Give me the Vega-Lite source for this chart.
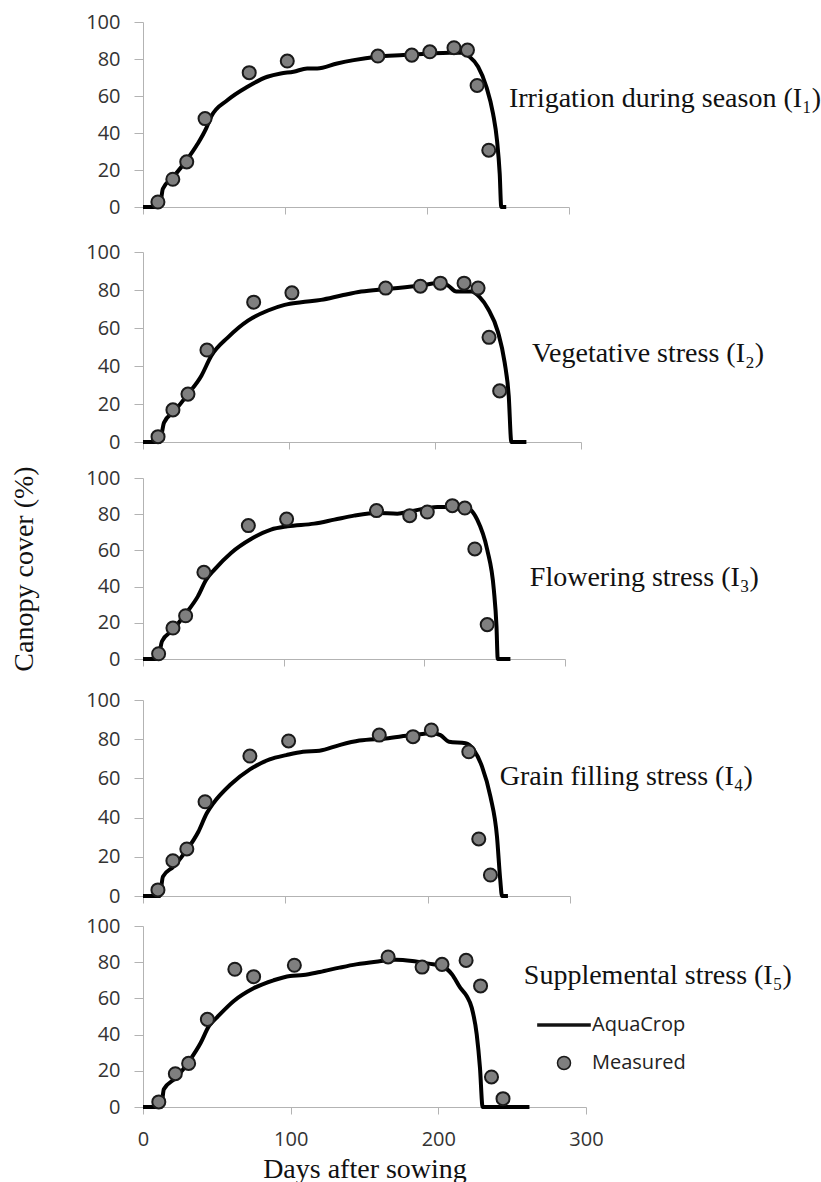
{
  "$schema": "https://vega.github.io/schema/vega-lite/v6.json",
  "padding": {"left": 10, "top": 12, "right": 5, "bottom": 5},
  "background": "white",
  "spacing": 0,
  "config": {
    "view": {"stroke": null},
    "axis": {
      "domainColor": "#b3b3b3", "tickColor": "#b3b3b3", "domainWidth": 1, "tickWidth": 1,
      "labelFont": "Open Sans", "labelFontSize": 20, "labelColor": "#333",
      "titleFont": "Liberation Serif", "titleFontSize": 28, "titleFontWeight": "normal", "titleColor": "#111",
      "grid": false
    },
    "axisX": {"tickSize": 7, "labelPadding": 15, "labelFlush": false},
    "axisY": {"tickSize": 9, "labelPadding": 14}
  },
  "datasets": {
    "sim": [
      {"panel":1,"day":0,"cc":0},{"panel":1,"day":11.7,"cc":0},{"panel":1,"day":14,"cc":9.9},{"panel":1,"day":21,"cc":16},{"panel":1,"day":30.4,"cc":25},{"panel":1,"day":38.6,"cc":34.3},{"panel":1,"day":44.4,"cc":42.4},{"panel":1,"day":47.9,"cc":48.7},{"panel":1,"day":59.6,"cc":57.8},{"panel":1,"day":73.6,"cc":65},{"panel":1,"day":87.6,"cc":70.4},{"panel":1,"day":97,"cc":72.2},{"panel":1,"day":106,"cc":73.1},{"panel":1,"day":115.6,"cc":74.9},{"panel":1,"day":122.7,"cc":74.9},{"panel":1,"day":136.7,"cc":77.6},{"panel":1,"day":148.4,"cc":79.4},{"panel":1,"day":164.7,"cc":81.2},{"panel":1,"day":183.4,"cc":82.1},{"panel":1,"day":202,"cc":83},{"panel":1,"day":216,"cc":83.4},{"panel":1,"day":224.3,"cc":83.4},{"panel":1,"day":230,"cc":81.2},{"panel":1,"day":236,"cc":75.8},{"panel":1,"day":241.8,"cc":65},{"panel":1,"day":246.5,"cc":50.5},{"panel":1,"day":249.3,"cc":36},{"panel":1,"day":251.2,"cc":18},{"panel":1,"day":252.3,"cc":0},{"panel":1,"day":255.8,"cc":0},
      {"panel":2,"day":0,"cc":0},{"panel":2,"day":11.4,"cc":0},{"panel":2,"day":14.4,"cc":10.2},{"panel":2,"day":21.7,"cc":16.4},{"panel":2,"day":30.8,"cc":25.2},{"panel":2,"day":40,"cc":34.9},{"panel":2,"day":46.8,"cc":45.4},{"panel":2,"day":58.2,"cc":55.1},{"panel":2,"day":71.9,"cc":63.9},{"panel":2,"day":85.6,"cc":69.2},{"panel":2,"day":97,"cc":72.2},{"panel":2,"day":108.4,"cc":73.6},{"panel":2,"day":122,"cc":74.8},{"panel":2,"day":135.8,"cc":77.1},{"panel":2,"day":149.5,"cc":79.2},{"panel":2,"day":167.8,"cc":80.6},{"panel":2,"day":190.6,"cc":82.4},{"panel":2,"day":204.3,"cc":83.8},{"panel":2,"day":208.9,"cc":82.4},{"panel":2,"day":214.6,"cc":79.2},{"panel":2,"day":224.9,"cc":79.2},{"panel":2,"day":230.6,"cc":76.2},{"panel":2,"day":236.3,"cc":70.1},{"panel":2,"day":243.2,"cc":57.7},{"panel":2,"day":247.7,"cc":41.9},{"panel":2,"day":250.5,"cc":24.3},{"panel":2,"day":252.3,"cc":0},{"panel":2,"day":262.6,"cc":0},
      {"panel":3,"day":0,"cc":0},{"panel":3,"day":10.6,"cc":0},{"panel":3,"day":13.5,"cc":9.8},{"panel":3,"day":21.3,"cc":16.2},{"panel":3,"day":30.7,"cc":25.4},{"panel":3,"day":39,"cc":34.6},{"panel":3,"day":44.9,"cc":43.8},{"panel":3,"day":50.8,"cc":49.4},{"panel":3,"day":62.6,"cc":58.6},{"panel":3,"day":76.8,"cc":66.3},{"panel":3,"day":91,"cc":71.5},{"panel":3,"day":102.8,"cc":73.3},{"panel":3,"day":121.7,"cc":74.8},{"panel":3,"day":136,"cc":77},{"panel":3,"day":150,"cc":79.2},{"panel":3,"day":166.7,"cc":80.7},{"panel":3,"day":180.8,"cc":80.3},{"panel":3,"day":190.3,"cc":81.6},{"panel":3,"day":209.2,"cc":84},{"panel":3,"day":223.4,"cc":84},{"panel":3,"day":230.5,"cc":83.4},{"panel":3,"day":237.6,"cc":77},{"panel":3,"day":244.7,"cc":60.4},{"panel":3,"day":249.4,"cc":38.3},{"panel":3,"day":251.3,"cc":18},{"panel":3,"day":252.2,"cc":0},{"panel":3,"day":261.2,"cc":0},
      {"panel":4,"day":0,"cc":0},{"panel":4,"day":11.7,"cc":0},{"panel":4,"day":14,"cc":9.9},{"panel":4,"day":21.4,"cc":15},{"panel":4,"day":30.8,"cc":23.5},{"panel":4,"day":38.9,"cc":32.8},{"panel":4,"day":44.8,"cc":42.2},{"panel":4,"day":49.4,"cc":47.3},{"panel":4,"day":61.1,"cc":56.6},{"panel":4,"day":75.1,"cc":64.6},{"panel":4,"day":89,"cc":69.7},{"panel":4,"day":100.7,"cc":71.9},{"panel":4,"day":112.4,"cc":73.6},{"panel":4,"day":124,"cc":74.1},{"panel":4,"day":138,"cc":77},{"panel":4,"day":152,"cc":79.3},{"panel":4,"day":170.6,"cc":80.4},{"panel":4,"day":189.3,"cc":82.1},{"panel":4,"day":203.3,"cc":83},{"panel":4,"day":209,"cc":82.1},{"panel":4,"day":215,"cc":78.7},{"panel":4,"day":226.6,"cc":77.9},{"panel":4,"day":232.4,"cc":74.5},{"panel":4,"day":238.2,"cc":66},{"panel":4,"day":244.1,"cc":50.7},{"panel":4,"day":248.7,"cc":30.3},{"panel":4,"day":251,"cc":8.2},{"panel":4,"day":252.2,"cc":0},{"panel":4,"day":256.4,"cc":0},
      {"panel":5,"day":0,"cc":0},{"panel":5,"day":12.3,"cc":0},{"panel":5,"day":14.1,"cc":9.8},{"panel":5,"day":22.4,"cc":16.2},{"panel":5,"day":31.3,"cc":25.4},{"panel":5,"day":39.1,"cc":35.5},{"panel":5,"day":44.7,"cc":44.8},{"panel":5,"day":50.3,"cc":49.7},{"panel":5,"day":61.5,"cc":58.6},{"panel":5,"day":74.9,"cc":65.6},{"panel":5,"day":88.4,"cc":70},{"panel":5,"day":99.6,"cc":72.4},{"panel":5,"day":108.5,"cc":72.9},{"panel":5,"day":119.7,"cc":74.6},{"panel":5,"day":133.1,"cc":77},{"panel":5,"day":144.3,"cc":78.8},{"panel":5,"day":157.7,"cc":80.3},{"panel":5,"day":171.1,"cc":81.4},{"panel":5,"day":182.3,"cc":80.7},{"panel":5,"day":193.5,"cc":79.2},{"panel":5,"day":202.5,"cc":77.9},{"panel":5,"day":209.2,"cc":73.3},{"panel":5,"day":214.8,"cc":65.9},{"panel":5,"day":219.2,"cc":61.3},{"panel":5,"day":222.6,"cc":54.9},{"panel":5,"day":226,"cc":40.1},{"panel":5,"day":228.2,"cc":21.7},{"panel":5,"day":230,"cc":0},{"panel":5,"day":261.7,"cc":0}
    ],
    "obs": [
      {"panel":1,"day":10.5,"cc":2.7,"series":"Measured"},{"panel":1,"day":21,"cc":15,"series":"Measured"},{"panel":1,"day":30.8,"cc":24.4,"series":"Measured"},{"panel":1,"day":43.7,"cc":47.8,"series":"Measured"},{"panel":1,"day":74.8,"cc":72.6,"series":"Measured"},{"panel":1,"day":101.6,"cc":78.9,"series":"Measured"},{"panel":1,"day":165.4,"cc":81.6,"series":"Measured"},{"panel":1,"day":189.3,"cc":82.1,"series":"Measured"},{"panel":1,"day":202,"cc":83.9,"series":"Measured"},{"panel":1,"day":219,"cc":86.1,"series":"Measured"},{"panel":1,"day":228.5,"cc":84.8,"series":"Measured"},{"panel":1,"day":235.3,"cc":65.7,"series":"Measured"},{"panel":1,"day":243.5,"cc":30.7,"series":"Measured"},
      {"panel":2,"day":10.3,"cc":2.8,"series":"Measured"},{"panel":2,"day":20.5,"cc":16.9,"series":"Measured"},{"panel":2,"day":30.8,"cc":25.2,"series":"Measured"},{"panel":2,"day":43.8,"cc":48.4,"series":"Measured"},{"panel":2,"day":75.8,"cc":73.6,"series":"Measured"},{"panel":2,"day":102,"cc":78.5,"series":"Measured"},{"panel":2,"day":166.2,"cc":81,"series":"Measured"},{"panel":2,"day":190,"cc":82,"series":"Measured"},{"panel":2,"day":203.7,"cc":83.6,"series":"Measured"},{"panel":2,"day":219.9,"cc":83.6,"series":"Measured"},{"panel":2,"day":229.5,"cc":81,"series":"Measured"},{"panel":2,"day":237,"cc":55.1,"series":"Measured"},{"panel":2,"day":244.3,"cc":26.9,"series":"Measured"},
      {"panel":3,"day":11.1,"cc":2.9,"series":"Measured"},{"panel":3,"day":21.3,"cc":17.1,"series":"Measured"},{"panel":3,"day":30.3,"cc":23.9,"series":"Measured"},{"panel":3,"day":43.3,"cc":47.9,"series":"Measured"},{"panel":3,"day":74.9,"cc":73.7,"series":"Measured"},{"panel":3,"day":102.1,"cc":77.3,"series":"Measured"},{"panel":3,"day":166,"cc":82,"series":"Measured"},{"panel":3,"day":189.6,"cc":79.2,"series":"Measured"},{"panel":3,"day":202.1,"cc":81.2,"series":"Measured"},{"panel":3,"day":219.9,"cc":84.7,"series":"Measured"},{"panel":3,"day":228.8,"cc":83.4,"series":"Measured"},{"panel":3,"day":235.9,"cc":60.8,"series":"Measured"},{"panel":3,"day":244.7,"cc":19,"series":"Measured"},
      {"panel":4,"day":10.5,"cc":3.1,"series":"Measured"},{"panel":4,"day":21,"cc":18,"series":"Measured"},{"panel":4,"day":30.8,"cc":24,"series":"Measured"},{"panel":4,"day":43.6,"cc":48.1,"series":"Measured"},{"panel":4,"day":75.1,"cc":71.4,"series":"Measured"},{"panel":4,"day":102.3,"cc":79.1,"series":"Measured"},{"panel":4,"day":166,"cc":82.1,"series":"Measured"},{"panel":4,"day":189.7,"cc":81.3,"series":"Measured"},{"panel":4,"day":202.6,"cc":84.7,"series":"Measured"},{"panel":4,"day":228.9,"cc":73.6,"series":"Measured"},{"panel":4,"day":235.9,"cc":29.1,"series":"Measured"},{"panel":4,"day":244.1,"cc":10.7,"series":"Measured"},
      {"panel":5,"day":10.7,"cc":2.8,"series":"Measured"},{"panel":5,"day":21.9,"cc":18.4,"series":"Measured"},{"panel":5,"day":30.9,"cc":24.1,"series":"Measured"},{"panel":5,"day":43.6,"cc":48.4,"series":"Measured"},{"panel":5,"day":62.2,"cc":76.1,"series":"Measured"},{"panel":5,"day":74.9,"cc":72,"series":"Measured"},{"panel":5,"day":102.5,"cc":78.3,"series":"Measured"},{"panel":5,"day":166,"cc":82.9,"series":"Measured"},{"panel":5,"day":189,"cc":77.3,"series":"Measured"},{"panel":5,"day":202.5,"cc":78.8,"series":"Measured"},{"panel":5,"day":218.8,"cc":81,"series":"Measured"},{"panel":5,"day":228.6,"cc":66.9,"series":"Measured"},{"panel":5,"day":236,"cc":16.6,"series":"Measured"},{"panel":5,"day":243.8,"cc":4.6,"series":"Measured"}
    ],
    "labels": [
      {"panel":1,"day":257.7,"cc":58.3,"label":"Irrigation during season (I₁)"},
      {"panel":2,"day":266.4,"cc":46.3,"label":"Vegetative stress (I₂)"},
      {"panel":3,"day":275,"cc":45,"label":"Flowering stress (I₃)"},
      {"panel":4,"day":250.6,"cc":60.9,"label":"Grain filling stress (I₄)"},
      {"panel":5,"day":257.9,"cc":72.4,"label":"Supplemental stress (I₅)"}
    ]
  },
  "vconcat": [
    {
      "width": 426, "height": 185,
      "encoding": {
        "x": {"field": "day", "type": "quantitative", "scale": {"domain": [0, 300], "nice": false}, "axis": {"values": [0, 100, 200, 300], "labels": false, "title": null, "minExtent": 35}},
        "y": {"field": "cc", "type": "quantitative", "scale": {"domain": [0, 100], "nice": false}, "axis": {"values": [0, 20, 40, 60, 80, 100], "title": null}}
      },
      "layer": [
        {"data": {"name": "sim"}, "transform": [{"filter": "datum.panel == 1"}], "mark": {"type": "line", "color": "#000", "strokeWidth": 4, "interpolate": "monotone"}},
        {"data": {"name": "obs"}, "transform": [{"filter": "datum.panel == 1"}], "mark": {"type": "point", "filled": true, "fill": "#7f7f7f", "stroke": "#1a1a1a", "strokeWidth": 2, "size": 170, "opacity": 1}},
        {"data": {"name": "labels"}, "transform": [{"filter": "datum.panel == 1"}], "mark": {"type": "text", "font": "Liberation Serif", "fontSize": 28, "align": "left", "baseline": "middle", "color": "#111"}, "encoding": {"text": {"field": "label"}}}
      ]
    },
    {
      "width": 438, "height": 190,
      "encoding": {
        "x": {"field": "day", "type": "quantitative", "scale": {"domain": [0, 300], "nice": false}, "axis": {"values": [0, 100, 200, 300], "labels": false, "title": null, "minExtent": 23}},
        "y": {"field": "cc", "type": "quantitative", "scale": {"domain": [0, 100], "nice": false}, "axis": {"values": [0, 20, 40, 60, 80, 100], "title": null}}
      },
      "layer": [
        {"data": {"name": "sim"}, "transform": [{"filter": "datum.panel == 2"}], "mark": {"type": "line", "color": "#000", "strokeWidth": 4, "interpolate": "monotone"}},
        {"data": {"name": "obs"}, "transform": [{"filter": "datum.panel == 2"}], "mark": {"type": "point", "filled": true, "fill": "#7f7f7f", "stroke": "#1a1a1a", "strokeWidth": 2, "size": 170, "opacity": 1}},
        {"data": {"name": "labels"}, "transform": [{"filter": "datum.panel == 2"}], "mark": {"type": "text", "font": "Liberation Serif", "fontSize": 28, "align": "left", "baseline": "middle", "color": "#111"}, "encoding": {"text": {"field": "label"}}}
      ]
    },
    {
      "width": 422, "height": 181,
      "encoding": {
        "x": {"field": "day", "type": "quantitative", "scale": {"domain": [0, 300], "nice": false}, "axis": {"values": [0, 100, 200, 300], "labels": false, "title": null, "minExtent": 31}},
        "y": {"field": "cc", "type": "quantitative", "scale": {"domain": [0, 100], "nice": false}, "axis": {"values": [0, 20, 40, 60, 80, 100], "title": "Canopy cover (%)", "titlePadding": 47}}
      },
      "layer": [
        {"data": {"name": "sim"}, "transform": [{"filter": "datum.panel == 3"}], "mark": {"type": "line", "color": "#000", "strokeWidth": 4, "interpolate": "monotone"}},
        {"data": {"name": "obs"}, "transform": [{"filter": "datum.panel == 3"}], "mark": {"type": "point", "filled": true, "fill": "#7f7f7f", "stroke": "#1a1a1a", "strokeWidth": 2, "size": 170, "opacity": 1}},
        {"data": {"name": "labels"}, "transform": [{"filter": "datum.panel == 3"}], "mark": {"type": "text", "font": "Liberation Serif", "fontSize": 28, "align": "left", "baseline": "middle", "color": "#111"}, "encoding": {"text": {"field": "label"}}}
      ]
    },
    {
      "width": 427, "height": 196,
      "encoding": {
        "x": {"field": "day", "type": "quantitative", "scale": {"domain": [0, 300], "nice": false}, "axis": {"values": [0, 100, 200, 300], "labels": false, "title": null, "minExtent": 20}},
        "y": {"field": "cc", "type": "quantitative", "scale": {"domain": [0, 100], "nice": false}, "axis": {"values": [0, 20, 40, 60, 80, 100], "title": null}}
      },
      "layer": [
        {"data": {"name": "sim"}, "transform": [{"filter": "datum.panel == 4"}], "mark": {"type": "line", "color": "#000", "strokeWidth": 4, "interpolate": "monotone"}},
        {"data": {"name": "obs"}, "transform": [{"filter": "datum.panel == 4"}], "mark": {"type": "point", "filled": true, "fill": "#7f7f7f", "stroke": "#1a1a1a", "strokeWidth": 2, "size": 170, "opacity": 1}},
        {"data": {"name": "labels"}, "transform": [{"filter": "datum.panel == 4"}], "mark": {"type": "text", "font": "Liberation Serif", "fontSize": 28, "align": "left", "baseline": "middle", "color": "#111"}, "encoding": {"text": {"field": "label"}}}
      ]
    },
    {
      "width": 443, "height": 181,
      "encoding": {
        "x": {"field": "day", "type": "quantitative", "scale": {"domain": [0, 300], "nice": false}, "axis": {"values": [0, 100, 200, 300], "title": "Days after sowing", "titlePadding": 6}},
        "y": {"field": "cc", "type": "quantitative", "scale": {"domain": [0, 100], "nice": false}, "axis": {"values": [0, 20, 40, 60, 80, 100], "title": null}}
      },
      "layer": [
        {"data": {"name": "sim"}, "transform": [{"filter": "datum.panel == 5"}], "mark": {"type": "line", "color": "#000", "strokeWidth": 4, "interpolate": "monotone"}},
        {"data": {"name": "obs"}, "transform": [{"filter": "datum.panel == 5"}], "mark": {"type": "point", "filled": true, "fill": "#7f7f7f", "stroke": "#1a1a1a", "strokeWidth": 2, "size": 170, "opacity": 1},
          "encoding": {
            "fill": {"field": "series", "type": "nominal", "scale": {"domain": ["AquaCrop", "Measured"], "range": ["#000000", "#7f7f7f"]},
              "legend": {"title": null, "orient": "none", "legendX": 411, "legendY": 993, "labelFont": "Open Sans", "labelFontSize": 20, "labelColor": "#222", "labelOffset": 18, "rowPadding": 18, "symbolSize": 170, "padding": 0,
                "encode": {"symbols": {"update": {"stroke": {"value": "#1a1a1a"}, "strokeWidth": {"value": 2}, "opacity": {"value": 1}}}}}},
            "shape": {"field": "series", "type": "nominal", "scale": {"domain": ["AquaCrop", "Measured"], "range": ["M-4,-0.16L4,-0.16L4,0.16L-4,0.16Z", "circle"]},
              "legend": {"title": null, "orient": "none", "legendX": 411, "legendY": 993, "labelFont": "Open Sans", "labelFontSize": 20, "labelColor": "#222", "labelOffset": 18, "rowPadding": 18, "symbolSize": 170, "padding": 0,
                "encode": {"symbols": {"update": {"stroke": {"value": "#1a1a1a"}, "strokeWidth": {"value": 2}, "opacity": {"value": 1}}}}}}
          }
        },
        {"data": {"name": "labels"}, "transform": [{"filter": "datum.panel == 5"}], "mark": {"type": "text", "font": "Liberation Serif", "fontSize": 28, "align": "left", "baseline": "middle", "color": "#111"}, "encoding": {"text": {"field": "label"}}}
      ]
    }
  ]
}
